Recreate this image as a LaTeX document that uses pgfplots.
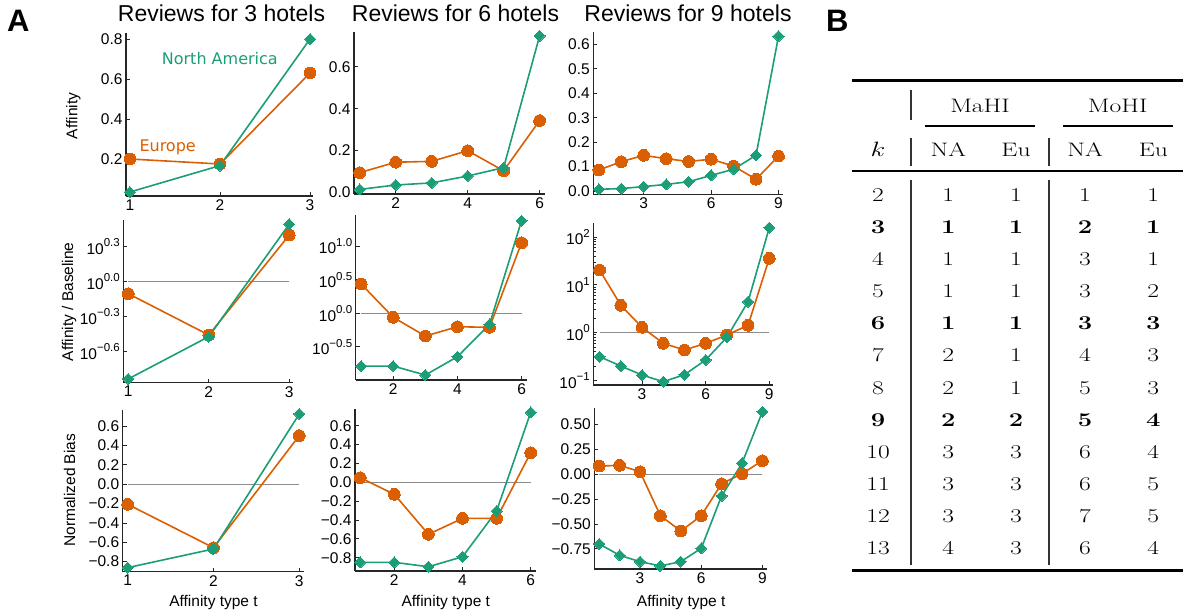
\documentclass[border=0pt]{standalone}
\usepackage{fontspec}
\usepackage{graphicx}
\usepackage{pgfplots}
\pgfplotsset{compat=1.18}
\newfontfamily\arial{Liberation Sans}
\newfontfamily\dejavu{DejaVu Sans}
\definecolor{cor}{HTML}{D95F02}
\definecolor{cgr}{HTML}{1B9E77}
\newcommand\tl{\arial\fontsize{15.5}{18}\selectfont}
\newcommand\E[1]{10\raisebox{7.5pt}{\fontsize{11.5}{12}\selectfont #1}}
\newcommand\T[1]{\scalebox{1.31}[1]{\fontsize{19.5}{23}\selectfont #1}}
\newcommand\row[6]{%
  \node[anchor=base] at (878,-#1) {\T{#2}};
  \node[anchor=base] at (948.3,-#1) {\T{#3}};
  \node[anchor=base] at (1016,-#1) {\T{#4}};
  \node[anchor=base] at (1085,-#1) {\T{#5}};
  \node[anchor=base] at (1153.3,-#1) {\T{#6}};}
\pgfplotsset{
  P/.style={scale only axis, anchor=south west, clip=false,
    axis x line*=bottom, axis y line*=left,
    axis line style={line width=1.1pt, draw=black!85},
    tick style={line width=0.9pt, black!85},
    tick align=inside, major tick length=4pt,
    ticklabel style={font=\tl}},
  O/.style={draw=cor, line width=1.6pt, mark=*, mark size=5.9pt,
    mark options={fill=cor, draw=cor, line width=0pt}},
  G/.style={draw=cgr, line width=1.6pt, mark=square*, mark size=3.9pt,
    mark options={rotate=45, fill=cgr, draw=cgr, line width=0pt}},
  B/.style={draw=black!45, line width=1.2pt, mark=none, forget plot},
}
\begin{document}
\begin{tikzpicture}[x=1pt,y=1pt]
\useasboundingbox (0,0) rectangle (1183,-615);
% ---------- Row 1: Affinity ----------
\begin{axis}[P, at={(126pt,-196pt)}, width=187pt, height=163pt,
  xmin=0.956, xmax=3.033, ymin=0.015, ymax=0.83,
  xtick={1,2,3}, xticklabels={1,2,3},
  ytick={0.2,0.4,0.6,0.8}, yticklabels={0.2,0.4,0.6,0.8}]
\addplot[O] coordinates {(1,0.200) (2,0.175) (3,0.630)};
\addplot[G] coordinates {(1,0.035) (2,0.167) (3,0.800)};
\end{axis}
\begin{axis}[P, at={(354pt,-194pt)}, width=191pt, height=162.3pt,
  xmin=0.842, xmax=6.15, ymin=-0.008, ymax=0.768,
  xtick={2,4,6}, xticklabels={2,4,6},
  ytick={0,0.2,0.4,0.6}, yticklabels={0.0,0.2,0.4,0.6}]
\addplot[O] coordinates {(1,0.094) (2,0.144) (3,0.148) (4,0.199) (5,0.103) (6,0.343)};
\addplot[G] coordinates {(1,0.014) (2,0.035) (3,0.045) (4,0.078) (5,0.118) (6,0.748)};
\end{axis}
\begin{axis}[P, at={(593.3pt,-194.3pt)}, width=189.7pt, height=162.6pt,
  xmin=0.755, xmax=9.2, ymin=-0.0135, ymax=0.652,
  xtick={3,6,9}, xticklabels={3,6,9},
  ytick={0,0.1,0.2,0.3,0.4,0.5,0.6}, yticklabels={0.0,0.1,0.2,0.3,0.4,0.5,0.6}]
\addplot[O] coordinates {(1,0.086) (2,0.120) (3,0.146) (4,0.132) (5,0.121) (6,0.130) (7,0.102) (8,0.048) (9,0.143)};
\addplot[G] coordinates {(1,0.007) (2,0.010) (3,0.018) (4,0.027) (5,0.038) (6,0.064) (7,0.089) (8,0.146) (9,0.634)};
\end{axis}
% ---------- Row 2: Affinity / Baseline (log) ----------
\begin{axis}[P, ymode=log, at={(123.3pt,-382.7pt)}, width=170pt, height=162.7pt,
  xmin=0.938, xmax=3.05, ymin=0.1361, ymax=3.381,
  xtick={1,2,3}, xticklabels={1,2,3},
  ytick={0.251189,0.501187,1,1.995262},
  yticklabels={\E{−0.6},\E{−0.3},\E{0.0},\E{0.3}}]
\addplot[B] coordinates {(1,1) (3,1)};
\addplot[O] coordinates {(1,0.789) (2,0.349) (3,2.512)};
\addplot[G] coordinates {(1,0.1466) (2,0.338) (3,3.119)};
\end{axis}
\begin{axis}[P, ymode=log, at={(355.7pt,-380pt)}, width=171pt, height=165pt,
  xmin=0.829, xmax=6.16, ymin=0.1012, ymax=29.31,
  xtick={2,4,6}, xticklabels={2,4,6},
  ytick={0.316228,1,3.162278,10},
  yticklabels={\E{−0.5},\E{0.0},\E{0.5},\E{1.0}}]
\addplot[B] coordinates {(1,1) (6,1)};
\addplot[O] coordinates {(1,2.735) (2,0.871) (3,0.458) (4,0.631) (5,0.618) (6,11.32)};
\addplot[G] coordinates {(1,0.1633) (2,0.1633) (3,0.1200) (4,0.2249) (5,0.6855) (6,24.10)};
\end{axis}
\begin{axis}[P, ymode=log, at={(593.3pt,-385pt)}, width=180pt, height=161.7pt,
  xmin=0.703, xmax=9.19, ymin=0.0805, ymax=194.5,
  xtick={3,6,9}, xticklabels={3,6,9},
  ytick={0.1,1,10,100},
  yticklabels={\E{−1},\E{0},\E{1},\E{2}}]
\addplot[B] coordinates {(1,1) (9,1)};
\addplot[O] coordinates {(1,20.51) (2,3.741) (3,1.297) (4,0.5998) (5,0.4345) (6,0.5998) (7,0.8954) (8,1.429) (9,35.97)};
\addplot[G] coordinates {(1,0.3148) (2,0.2009) (3,0.1303) (4,0.0944) (5,0.1321) (6,0.2685) (7,0.8017) (8,4.457) (9,157.4)};
\end{axis}
% ---------- Row 3: Normalized Bias ----------
\begin{axis}[P, at={(122.7pt,-571.7pt)}, width=181.3pt, height=161.7pt,
  xmin=0.942, xmax=3.055, ymin=-0.904, ymax=0.768,
  xtick={1,2,3}, xticklabels={1,2,3},
  ytick={-0.8,-0.6,-0.4,-0.2,0,0.2,0.4,0.6},
  yticklabels={−0.8,−0.6,−0.4,−0.2,0.0,0.2,0.4,0.6}]
\addplot[B] coordinates {(1,0) (3,0)};
\addplot[O] coordinates {(1,-0.207) (2,-0.656) (3,0.503)};
\addplot[G] coordinates {(1,-0.862) (2,-0.669) (3,0.727)};
\end{axis}
\begin{axis}[P, at={(355pt,-571pt)}, width=181pt, height=162pt,
  xmin=0.848, xmax=6.155, ymin=-0.94, ymax=0.777,
  xtick={2,4,6}, xticklabels={2,4,6},
  ytick={-0.8,-0.6,-0.4,-0.2,0,0.2,0.4,0.6},
  yticklabels={−0.8,−0.6,−0.4,−0.2,0.0,0.2,0.4,0.6}]
\addplot[B] coordinates {(1,0) (6,0)};
\addplot[O] coordinates {(1,0.049) (2,-0.127) (3,-0.551) (4,-0.382) (5,-0.382) (6,0.314)};
\addplot[G] coordinates {(1,-0.848) (2,-0.848) (3,-0.895) (4,-0.789) (5,-0.304) (6,0.742)};
\end{axis}
\begin{axis}[P, at={(594.3pt,-569pt)}, width=172.4pt, height=161.3pt,
  xmin=0.76, xmax=9.21, ymin=-0.953, ymax=0.67,
  xtick={3,6,9}, xticklabels={3,6,9},
  ytick={-0.75,-0.5,-0.25,0,0.25,0.5},
  yticklabels={−0.75,−0.50,−0.25,0.00,0.25,0.50}]
\addplot[B] coordinates {(1,0) (9,0)};
\addplot[O] coordinates {(1,0.083) (2,0.090) (3,0.026) (4,-0.417) (5,-0.571) (6,-0.417) (7,-0.095) (8,0.006) (9,0.137)};
\addplot[G] coordinates {(1,-0.701) (2,-0.815) (3,-0.879) (4,-0.922) (5,-0.879) (6,-0.745) (7,-0.218) (8,0.111) (9,0.630)};
\end{axis}
% ---------- Titles and labels ----------
\begin{scope}[every node/.style={font=\arial\fontsize{23}{26}\selectfont, anchor=base}]
\node at (221.5,-21.7) {Reviews for 3 hotels};
\node at (455.5,-21.7) {Reviews for 6 hotels};
\node at (688,-21.7) {Reviews for 9 hotels};
\end{scope}
\node[font=\tl, rotate=90] at (73.3,-116) {Affinity};
\node[font=\tl, rotate=90] at (69,-301.7) {Affinity / Baseline};
\node[font=\tl, rotate=90] at (69.7,-490.3) {Normalized Bias};
\node[font=\tl, anchor=base] at (213.5,-606.7) {Affinity type t};
\node[font=\tl, anchor=base] at (445.8,-606.7) {Affinity type t};
\node[font=\tl, anchor=base] at (681.2,-606.7) {Affinity type t};
\node[font=\dejavu\fontsize{16}{18}\selectfont, text=cgr, anchor=base west, inner sep=0] at (161.7,-65) {North America};
\node[font=\dejavu\fontsize{16}{18}\selectfont, text=cor, anchor=base west, inner sep=0] at (139.3,-151) {Europe};
\node[font=\arial\bfseries\fontsize{31}{32}\selectfont, anchor=base west, inner sep=0] at (7,-32) {A};
\node[font=\arial\bfseries\fontsize{31}{32}\selectfont, anchor=base west, inner sep=0] at (826,-32) {B};
% ---------- Table B ----------
\draw[line width=3pt] (852,-81) -- (1183,-81);
\draw[line width=1.3pt] (925,-126) -- (1035,-126);
\draw[line width=1.3pt] (1062.7,-126) -- (1172.7,-126);
\draw[line width=2pt] (852,-171) -- (1183,-171);
\draw[line width=3pt] (852,-570) -- (1183,-570);
\begin{scope}[black!80, line width=1.3pt]
\draw (911,-90) -- (911,-120);
\draw (911,-138.3) -- (911,-166);
\draw (911,-180) -- (911,-565);
\draw (1049,-138.3) -- (1049,-166);
\draw (1049,-180) -- (1049,-565);
\end{scope}
\node[anchor=base] at (980,-113) {\T{MaHI}};
\node[anchor=base] at (1117.7,-113) {\T{MoHI}};
\row{156.7}{$k$}{NA}{Eu}{NA}{Eu}
\row{201}{2}{1}{1}{1}{1}
\row{233.2}{\bfseries 3}{\bfseries 1}{\bfseries 1}{\bfseries 2}{\bfseries 1}
\row{265.3}{4}{1}{1}{3}{1}
\row{297.5}{5}{1}{1}{3}{2}
\row{329.7}{\bfseries 6}{\bfseries 1}{\bfseries 1}{\bfseries 3}{\bfseries 3}
\row{361.9}{7}{2}{1}{4}{3}
\row{394}{8}{2}{1}{5}{3}
\row{426.2}{\bfseries 9}{\bfseries 2}{\bfseries 2}{\bfseries 5}{\bfseries 4}
\row{458.4}{10}{3}{3}{6}{4}
\row{490.5}{11}{3}{3}{6}{5}
\row{522.7}{12}{3}{3}{7}{5}
\row{554.9}{13}{4}{3}{6}{4}
\end{tikzpicture}
\end{document}
